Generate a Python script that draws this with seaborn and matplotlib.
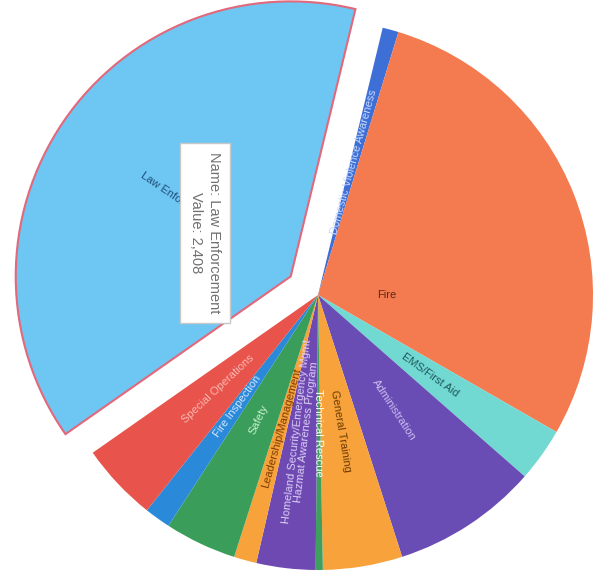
import numpy as np
import matplotlib.pyplot as plt
import seaborn as sns

# slices, clockwise starting with the highlighted one
categories = ["Law Enforcement", "Domestic Violence Awareness", "Fire", "EMS/First Aid",
              "Administration", "General Training", "Technical Rescue",
              "Homeland Security/Emergency Mgmt\nHazmat Awareness Program",
              "Leadership/Management", "Safety", "Fire Inspection", "Special Operations"]
values = [2408, 59, 1787, 198, 537, 292, 26, 217, 83, 264, 96, 287]
colors = ["#6ec6f2", "#3d6fd6", "#f47a50", "#72d8d2", "#6a4db4", "#f7a23b",
          "#3f9f5e", "#6e49b2", "#f7a23b", "#3a9e5a", "#2a89d8", "#e8534b"]
label_colors = ["#1f4e79", "#c8d8ff", "#5a2a1a", "#1d5a5a", "#cbbcf2", "#6b3a00",
                "#ffffff", "#dcd0f7", "#7a3a00", "#c8f0d0", "#cfe6ff", "#f7b9b2"]

sns.set_theme(style="white")
plt.rcParams['font.family'] = ['Liberation Sans', 'DejaVu Sans']

W, H = 597, 572
cx, cy, R = 318, H - 295, 275  # pie centre / radius in pixels

fig = plt.figure(figsize=(W / 100, H / 100), dpi=100)
ax = fig.add_axes([0, 0, 1, 1])

explode = [0.12 if c == "Law Enforcement" else 0 for c in categories]
wedges, _ = ax.pie(values, colors=colors, startangle=215, counterclock=False,
                   explode=explode, radius=1, wedgeprops=dict(linewidth=0))
ax.set_xlim(-cx / R, (W - cx) / R)
ax.set_ylim(-cy / R, (H - cy) / R)
ax.set_aspect('equal')
ax.axis('off')

# highlighted slice outline
wedges[0].set_edgecolor("#e2687c")
wedges[0].set_linewidth(1.5)

# radial labels inside the slices
for w, name, lc in zip(wedges, categories, label_colors):
    mid = (w.theta1 + w.theta2) / 2
    r = 0.5
    if name == "Fire":
        mid -= 22
        r = 0.25
    x = w.center[0] + r * np.cos(np.deg2rad(mid))
    y = w.center[1] + r * np.sin(np.deg2rad(mid))
    rot = (mid + 180) % 360 - 180
    if rot > 90:
        rot -= 180
    elif rot < -90:
        rot += 180
    ax.text(x, y, name, rotation=rot, rotation_mode='anchor', ha='center', va='center',
            fontsize=8, color=lc, linespacing=1.0)

# hover tooltip
fig.text(205 / W, 339 / H, "Name: Law Enforcement\nValue: 2,408", rotation=-90,
         ha='center', va='center', fontsize=10.5, color="#707070", linespacing=1.35,
         bbox=dict(boxstyle="square,pad=0.65", fc="white", ec="#c8c8c8", lw=1))

plt.savefig("out.png", dpi=100)
